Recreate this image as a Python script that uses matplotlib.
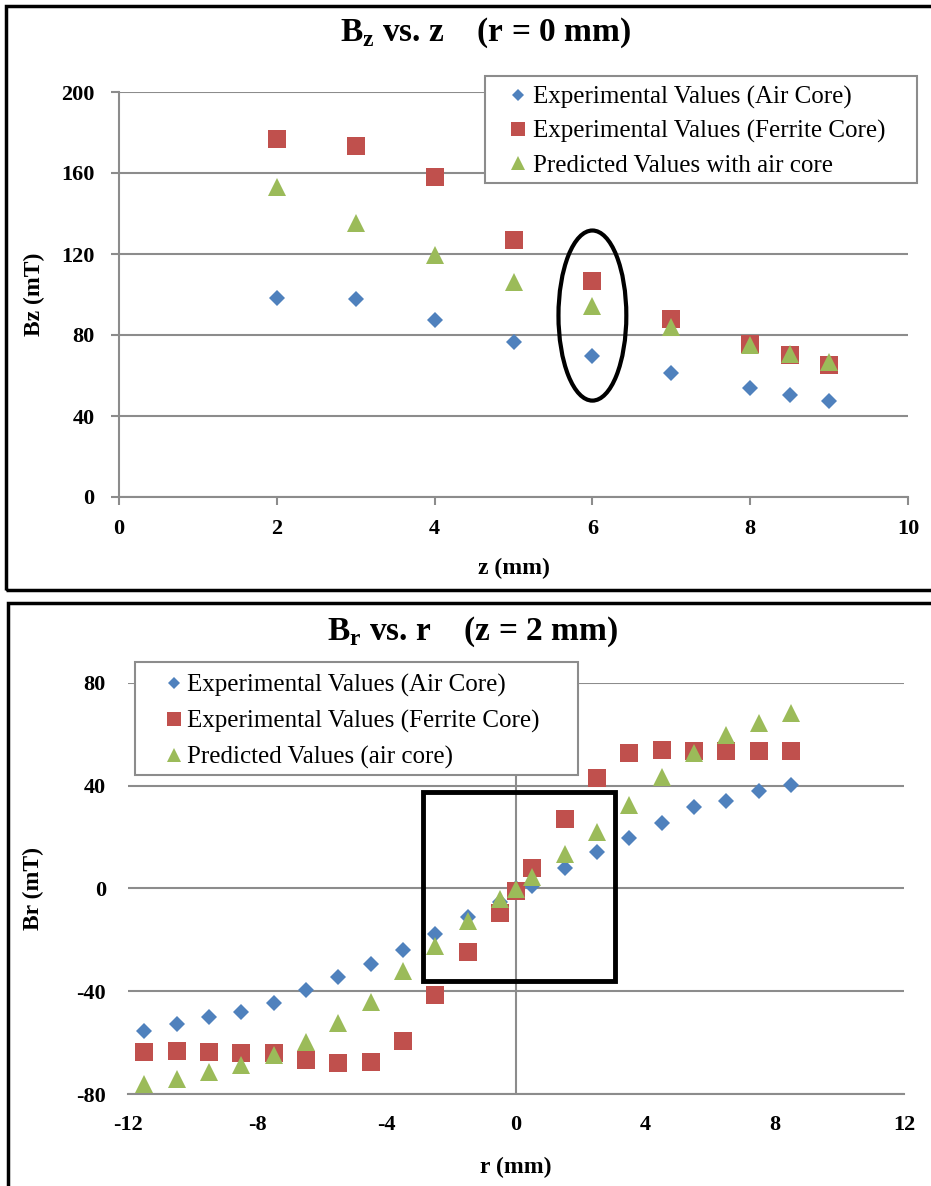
import matplotlib
matplotlib.use('Agg')
import matplotlib.pyplot as plt
from matplotlib.patches import Ellipse, Rectangle

# Bz vs z (r = 0 mm)
z = [2, 3, 4, 5, 6, 7, 8, 8.5, 9]
bz_air = [98.3, 97.8, 87.5, 76.5, 69.6, 61.3, 53.8, 50.4, 47.5]
bz_ferrite = [176.8, 173.3, 158.2, 126.9, 106.7, 88.0, 75.6, 70.0, 65.2]
bz_pred = [153.0, 135.3, 119.5, 106.0, 94.5, 84.0, 75.2, 70.6, 66.7]

# Br vs r (z = 2 mm)
r = [-11.5, -10.5, -9.5, -8.5, -7.5, -6.5, -5.5, -4.5, -3.5, -2.5, -1.5, -0.5,
     0, 0.5, 1.5, 2.5, 3.5, 4.5, 5.5, 6.5, 7.5, 8.5]
br_air = [-55.5, -52.8, -50.1, -48.2, -44.7, -39.6, -34.6, -29.5, -24.1, -17.9, -11.3, -5.4,
          0.0, 0.8, 7.8, 14.0, 19.4, 25.4, 31.6, 34.1, 37.9, 40.3]
br_ferrite = [-63.7, -63.3, -63.7, -64.1, -64.1, -66.8, -68.0, -67.6, -59.4, -41.5, -24.9, -9.7,
              -1.2, 8.1, 26.8, 43.0, 52.7, 53.9, 53.6, 53.3, 53.3, 53.6]
br_pred = [-76.2, -74.2, -71.5, -68.7, -64.9, -59.8, -52.4, -44.3, -32.2, -22.5, -12.8, -4.3,
           -0.4, 4.3, 13.2, 22.0, 32.3, 43.3, 52.6, 59.7, 64.5, 68.4]

top_labels = ['Experimental Values (Air Core)', 'Experimental Values (Ferrite Core)',
              'Predicted Values with air core']
bot_labels = ['Experimental Values (Air Core)', 'Experimental Values (Ferrite Core)',
              'Predicted Values (air core)']

BLUE = '#4F81BD'
RED = '#C0504D'
GREEN = '#9BBB59'
GRID = '#8c8c8c'

plt.rcParams['font.family'] = ['Liberation Serif', 'DejaVu Serif']
plt.rcParams['mathtext.fontset'] = 'custom'
plt.rcParams['mathtext.rm'] = 'Liberation Serif'
plt.rcParams['mathtext.bf'] = 'Liberation Serif:bold'
plt.rcParams['axes.unicode_minus'] = False

W, H = 931, 1186
fig = plt.figure(figsize=(W / 100, H / 100), dpi=100)


def fx(px):
    return px / W


def fy(py):
    return 1 - py / H


def scatter3(ax, x, a, f, p, labels):
    h1, = ax.plot(x, a, 'D', color=BLUE, ms=8.5, mew=0, clip_on=False, label=labels[0], zorder=3)
    h2, = ax.plot(x, f, 's', color=RED, ms=12.5, mew=0, clip_on=False, label=labels[1], zorder=4)
    h3, = ax.plot(x, p, '^', color=GREEN, ms=12.5, mew=0, clip_on=False, label=labels[2], zorder=5)
    return [h1, h2, h3]


def legend_box(ax, handles, box, anchor, spacing, textpad):
    # box in pixels: left, top, right, bottom
    l, t, rr, b = box
    ax.add_patch(Rectangle((fx(l), fy(b)), fx(rr - l), (b - t) / H, transform=fig.transFigure,
                           fc='white', ec=GRID, lw=1.5, zorder=9, clip_on=False))
    leg = ax.legend(handles=handles, loc='upper left', bbox_to_anchor=(fx(anchor[0]), fy(anchor[1])),
                    bbox_transform=fig.transFigure, borderaxespad=0, borderpad=0, fontsize=18,
                    frameon=False, handlelength=0.8, handletextpad=textpad,
                    labelspacing=spacing, markerscale=0.75)
    leg.set_zorder(10)
    return leg


# ---------- top chart ----------
ax1 = fig.add_axes([fx(119), fy(497), fx(908 - 119), (497 - 92) / H])
handles = scatter3(ax1, z, bz_air, bz_ferrite, bz_pred, top_labels)
ax1.set_xlim(0, 10)
ax1.set_ylim(0, 200)
ax1.set_xticks(range(0, 11, 2))
ax1.set_yticks(range(0, 201, 40))
ax1.yaxis.grid(True, color=GRID, lw=1.5)
ax1.set_axisbelow(True)
for s in ['top', 'right']:
    ax1.spines[s].set_visible(False)
for s in ['left', 'bottom']:
    ax1.spines[s].set_color(GRID)
    ax1.spines[s].set_linewidth(1.5)
ax1.tick_params(colors=GRID, width=1.5, length=5.5, labelcolor='black', labelsize=16, pad=12)
ax1.tick_params(axis='x', pad=10)
for t in ax1.get_xticklabels() + ax1.get_yticklabels():
    t.set_fontweight('bold')
ax1.set_xlabel('z (mm)', fontsize=17, fontweight='bold', labelpad=14)
ax1.set_ylabel('Bz (mT)', fontsize=17, fontweight='bold', labelpad=12)
fig.text(fx(485), fy(33), r'B$_{\mathbf{z}}$ vs. z    (r = 0 mm)', fontsize=24, fontweight='bold',
         ha='center', va='center')
ax1.add_patch(Ellipse((6, 89.6), 0.86, 84, fill=False, ec='black', lw=3, zorder=6, clip_on=False))

legend_box(ax1, handles, (485, 76, 917, 183), (508, 86), 0.44, 0.2)

# ---------- bottom chart ----------
ax2 = fig.add_axes([fx(128), fy(1094), fx(904 - 128), (1094 - 682.7) / H])
handles = scatter3(ax2, r, br_air, br_ferrite, br_pred, bot_labels)
ax2.set_xlim(-12, 12)
ax2.set_ylim(-80, 80)
ax2.set_xticks(range(-12, 13, 4))
ax2.set_yticks(range(-80, 81, 40))
ax2.yaxis.grid(True, color=GRID, lw=1.5)
ax2.axvline(0, color=GRID, lw=1.5, zorder=1)
ax2.set_axisbelow(True)
for s in ['top', 'right', 'left']:
    ax2.spines[s].set_visible(False)
ax2.spines['bottom'].set_color(GRID)
ax2.spines['bottom'].set_linewidth(1.5)
ax2.tick_params(length=0, labelsize=16, pad=16)
for t in ax2.get_xticklabels() + ax2.get_yticklabels():
    t.set_fontweight('bold')
ax2.tick_params(axis='x', pad=15)
ax2.set_xlabel('r (mm)', fontsize=17, fontweight='bold', labelpad=16)
ax2.set_ylabel('Br (mT)', fontsize=17, fontweight='bold', labelpad=23)
fig.text(fx(472), fy(632), r'B$_{\mathbf{r}}$ vs. r    (z = 2 mm)', fontsize=24, fontweight='bold',
         ha='center', va='center')
ax2.add_patch(Rectangle((-2.88, -36.2), 5.94, 73.8, fill=False, ec='black', lw=3.5, zorder=6,
                        clip_on=False))

legend_box(ax2, handles, (135, 662, 578, 775), (164, 674), 0.52, 0.12)

# panel frames
fig.patches.append(Rectangle((fx(6), fy(590)), fx(940 - 6), (590 - 6) / H, fill=False,
                             ec='black', lw=2.5, transform=fig.transFigure, figure=fig))
fig.patches.append(Rectangle((fx(8), fy(1200)), fx(940 - 8), (1200 - 603) / H, fill=False,
                             ec='black', lw=2.5, transform=fig.transFigure, figure=fig))

fig.savefig('out.png', dpi=100)
